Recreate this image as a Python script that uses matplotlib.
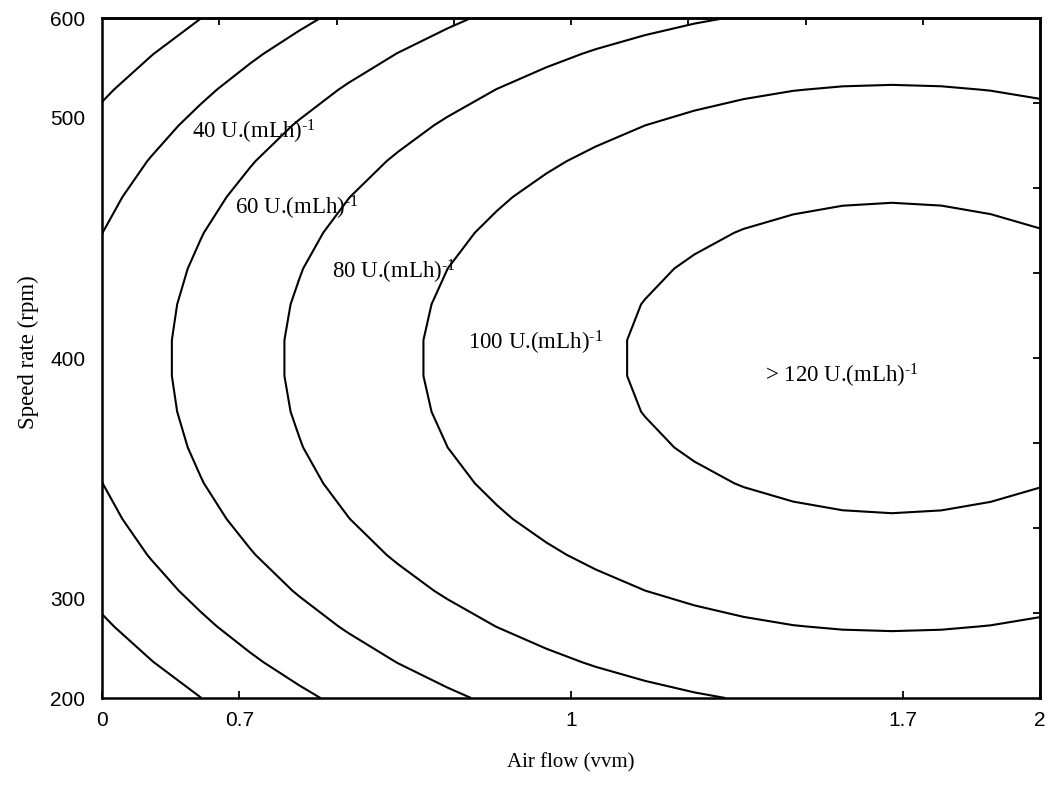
import numpy as np
import matplotlib
matplotlib.use("Agg")
import matplotlib.pyplot as plt

plt.rcParams["mathtext.fontset"] = "custom"
plt.rcParams["mathtext.rm"] = "Liberation Serif"
plt.rcParams["mathtext.it"] = "Liberation Serif:italic"

# coded design levels and the real values shown on the axes
alpha = np.sqrt(2)
coded_levels = [-alpha, -1, 0, 1, alpha]
air_flow_labels = ["0", "0.7", "1", "1.7", "2"]
speed_labels = ["200", "300", "400", "500", "600"]

# second order model of activity, U.(mLh)^-1, in coded variables
# Y = b0 + b1*x1 + b2*x2 + b11*x1^2 + b22*x2^2 + b12*x1*x2
b0, b1, b2 = 115.8, 28.5, 0.0
b11, b22, b12 = -14.7, -22.9, 0.0

contour_levels = [20, 40, 60, 80, 100, 120]

# band labels: text and where they sit (coded x1, x2)
sup = r"$^{\text{-}1}$"
band_texts = ["40 U.(mLh)" + sup, "60 U.(mLh)" + sup, "80 U.(mLh)" + sup,
              "100 U.(mLh)" + sup, "> 120 U.(mLh)" + sup]
band_x = [-1.143, -1.013, -0.721, -0.311, 0.585]
band_y = [0.911, 0.595, 0.329, 0.037, -0.100]

x1 = np.linspace(-alpha, alpha, 20)
x2 = np.linspace(-alpha, alpha, 20)
X1, X2 = np.meshgrid(x1, x2)
Z = b0 + b1 * X1 + b2 * X2 + b11 * X1**2 + b22 * X2**2 + b12 * X1 * X2

fig = plt.figure(figsize=(10.5, 7.87), dpi=100)
ax = fig.add_axes([102 / 1050, 89 / 787, 938 / 1050, 680 / 787])

ax.contour(X1, X2, Z, levels=contour_levels, colors="black", linewidths=1.5)

for txt, tx, ty in zip(band_texts, band_x, band_y):
    ax.text(tx, ty, txt, ha="left", va="baseline", fontsize=16.5,
            family="Liberation Serif")

ax.set_xlim(-alpha, alpha)
ax.set_ylim(-alpha, alpha)

ax.set_xticks(coded_levels)
ax.set_xticklabels(air_flow_labels, family="Liberation Sans", fontsize=15)
ax.set_yticks(coded_levels)
ax.set_yticklabels(speed_labels, family="Liberation Sans", fontsize=15)
ax.tick_params(axis="x", direction="in", length=5, width=1.3, pad=9)
ax.tick_params(axis="y", which="major", length=0, pad=12)
ax.set_yticks([0], minor=True)
ax.tick_params(axis="y", which="minor", direction="in", length=5, width=1.3)

# plain ticks along the top and right frame
frame_ticks = np.linspace(-alpha, alpha, 9)[1:-1]
top = ax.secondary_xaxis("top")
top.set_xticks(frame_ticks)
top.tick_params(direction="in", length=5, width=1.3, labeltop=False)
right = ax.secondary_yaxis("right")
right.set_yticks(frame_ticks)
right.tick_params(direction="in", length=5, width=1.3, labelright=False)

for sp in list(ax.spines.values()) + [top.spines["top"], right.spines["right"]]:
    sp.set_linewidth(1.8)

fig.text(571 / 1050, 1 - 763 / 787, "Air flow (vvm)", ha="center", va="center",
         fontsize=15, family="Liberation Serif")
fig.text(28 / 1050, 1 - 352 / 787, "Speed rate (rpm)", ha="center", va="center",
         rotation=90, fontsize=16.5, family="Liberation Serif")

fig.savefig("out.png", dpi=100)
